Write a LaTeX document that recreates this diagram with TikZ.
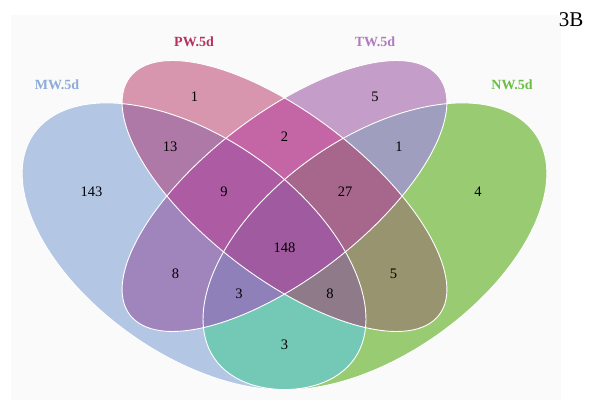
\documentclass[tikz,border=0pt]{standalone}
\usepackage{fontspec}
\setmainfont{Liberation Serif}
\definecolor{bgc}{HTML}{FAFAFA}
\definecolor{cA}{HTML}{B3C7E5}
\definecolor{cB}{HTML}{D796AE}
\definecolor{cC}{HTML}{C49DC8}
\definecolor{cD}{HTML}{99CC72}
\definecolor{cAB}{HTML}{AE79A7}
\definecolor{cAC}{HTML}{A085BD}
\definecolor{cAD}{HTML}{73C9B5}
\definecolor{cBC}{HTML}{C466A6}
\definecolor{cBD}{HTML}{989470}
\definecolor{cCD}{HTML}{A09EBE}
\definecolor{cABC}{HTML}{AD5BA2}
\definecolor{cABD}{HTML}{8E7A88}
\definecolor{cACD}{HTML}{8F80BA}
\definecolor{cBCD}{HTML}{A7668B}
\definecolor{cABCD}{HTML}{A05A9F}
\definecolor{lA}{HTML}{8DABD9}
\definecolor{lB}{HTML}{B3325F}
\definecolor{lC}{HTML}{B07AC0}
\definecolor{lD}{HTML}{6BBE45}
\tikzset{
  EA/.style={insert path={(0.35,0.47) ellipse [x radius=0.35pt, y radius=0.2pt, rotate=-45]}},
  EB/.style={insert path={(0.5,0.57) ellipse [x radius=0.35pt, y radius=0.15pt, rotate=-45]}},
  EC/.style={insert path={(0.5,0.57) ellipse [x radius=0.35pt, y radius=0.15pt, rotate=45]}},
  ED/.style={insert path={(0.65,0.47) ellipse [x radius=0.35pt, y radius=0.2pt, rotate=45]}},
  num/.style={font=\fontsize{14.5}{16}\selectfont, text=black, inner sep=0pt},
  setlab/.style={font=\fontsize{14}{16}\selectfont\bfseries, inner sep=0pt},
  outline/.style={draw=white, line width=0.9pt}
}
\begin{document}
\begin{tikzpicture}[x=1pt,y=1pt]
\useasboundingbox (0,0) rectangle (597,403);
\fill[white] (0,0) rectangle (597,403);
\fill[bgc] (11,3) rectangle (561,388);
\begin{scope}[shift={(284.5,207)}, xscale=603, yscale=503, shift={(-0.5,-0.57)}]
  % single sets
  \fill[cA, EA];
  \fill[cB, EB];
  \fill[cC, EC];
  \fill[cD, ED];
  % pairs
  \begin{scope}\clip[EA]; \fill[cAB, EB]; \end{scope}
  \begin{scope}\clip[EA]; \fill[cAC, EC]; \end{scope}
  \begin{scope}\clip[EA]; \fill[cAD, ED]; \end{scope}
  \begin{scope}\clip[EB]; \fill[cBC, EC]; \end{scope}
  \begin{scope}\clip[EB]; \fill[cBD, ED]; \end{scope}
  \begin{scope}\clip[EC]; \fill[cCD, ED]; \end{scope}
  % triples
  \begin{scope}\clip[EA]; \clip[EB]; \fill[cABC, EC]; \end{scope}
  \begin{scope}\clip[EA]; \clip[EB]; \fill[cABD, ED]; \end{scope}
  \begin{scope}\clip[EA]; \clip[EC]; \fill[cACD, ED]; \end{scope}
  \begin{scope}\clip[EB]; \clip[EC]; \fill[cBCD, ED]; \end{scope}
  % all four
  \begin{scope}\clip[EA]; \clip[EB]; \clip[EC]; \fill[cABCD, ED]; \end{scope}
  % outlines
  \path[outline, EA];
  \path[outline, EB];
  \path[outline, EC];
  \path[outline, ED];
\end{scope}
% region counts
\node[num] (n143) at (91.5,211) {143};
\node[num] (n13) at (170,256) {13};
\node[num] (n2) at (284.5,266) {2};
\node[num] (n1r) at (399,256) {1};
\node[num] (n1t) at (194.5,306) {1};
\node[num] (n5t) at (375,306) {5};
\node[num] (n9) at (224,211) {9};
\node[num] (n27) at (345,211) {27};
\node[num] (n4) at (478,211) {4};
\node[num] (n148) at (284.5,155) {148};
\node[num] (n8l) at (175.5,129) {8};
\node[num] (n5r) at (393.5,129) {5};
\node[num] (n3l) at (239,109) {3};
\node[num] (n8r) at (330,109) {8};
\node[num] (n3b) at (284.5,58) {3};
% set labels
\node[setlab, text=lA] (labMW) at (57,318) {MW.5d};
\node[setlab, text=lB] (labPW) at (194,361) {PW.5d};
\node[setlab, text=lC] (labTW) at (375,361) {TW.5d};
\node[setlab, text=lD] (labNW) at (512,318) {NW.5d};
\node[font=\fontsize{21}{24}\selectfont, inner sep=0pt] (tag) at (571,383) {3B};
\end{tikzpicture}
\end{document}
